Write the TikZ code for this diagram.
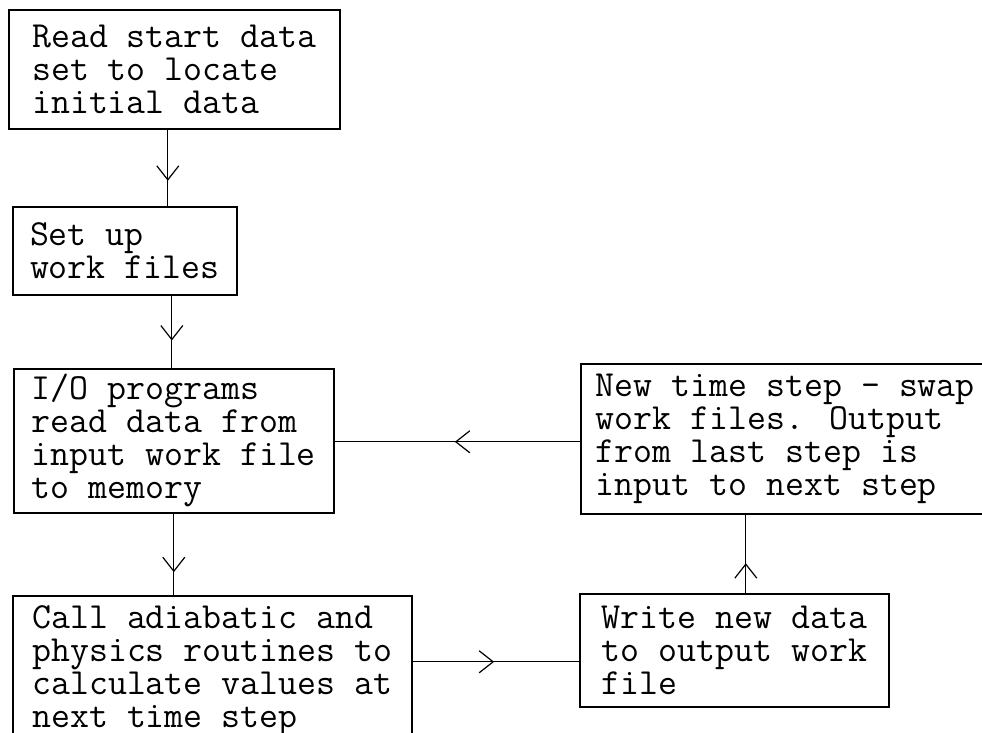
\documentclass[tikz,border=0pt]{standalone}
\usepackage{fontspec}
\usetikzlibrary{arrows.meta,decorations.markings}

\begin{document}
\begin{tikzpicture}[x=0.5pt, y=-0.5pt,
    stepbox/.style={draw, line width=0.8pt, anchor=north west, align=left,
      inner ysep=2pt, font=\ttfamily\fontsize{18.4}{16.5}\selectfont},
    midarrow/.style={line width=0.6pt, decoration={markings,
      mark=at position #1 with {\arrow{Straight Barb[length=7pt,width=11pt]}}},
      postaction={decorate}}]

    \useasboundingbox (0,0) rectangle (982,733);
    \clip (0,0) rectangle (982,733);

    % Boxes
    \node[stepbox, minimum width=165.5pt, minimum height=59.5pt] (read) at (8,9)
        {Read start data\\set to locate\\initial data};
    \node[stepbox, minimum width=112pt, minimum height=44pt] (setup) at (12,206)
        {Set up\\work files};
    \node[stepbox, minimum width=160pt, minimum height=72pt] (io) at (13,368)
        {I/O programs\\read data from\\input work file\\to memory};
    \node[stepbox, minimum width=199.5pt, minimum height=75pt] (calc) at (12,595)
        {Call adiabatic and\\physics routines to\\calculate values at\\next time step};
    \node[stepbox, minimum width=154.5pt, minimum height=56.5pt] (write) at (579,593)
        {Write new data\\to output work\\file};
    \node[stepbox, inner xsep=7.5pt, minimum height=75pt] (swap) at (580,363)
        {New time step - swap\\work files. Output\\from last step is\\input to next step};

    % Arrows
    \coordinate (a1) at ([xshift=-3.25pt]read.south);
    \coordinate (a2) at ([xshift=23.5pt]setup.south);
    \coordinate (a4) at ([yshift=4.5pt]calc.east);
    \coordinate (a5) at ([xshift=5.75pt]write.north);
    \coordinate (a6) at ([yshift=-1.5pt]swap.west);
    \draw[midarrow=0.67] (a1) -- (a1 |- setup.north);
    \draw[midarrow=0.62] (a2) -- (a2 |- io.north);
    \draw[midarrow=0.72] (io.south) -- (io.south |- calc.north);
    \draw[midarrow=0.49] (a4) -- (a4 -| write.west);
    \draw[midarrow=0.38] (a5) -- (a5 |- swap.south);
    \draw[midarrow=0.51] (a6) -- (a6 -| io.east);

\end{tikzpicture}
\end{document}
